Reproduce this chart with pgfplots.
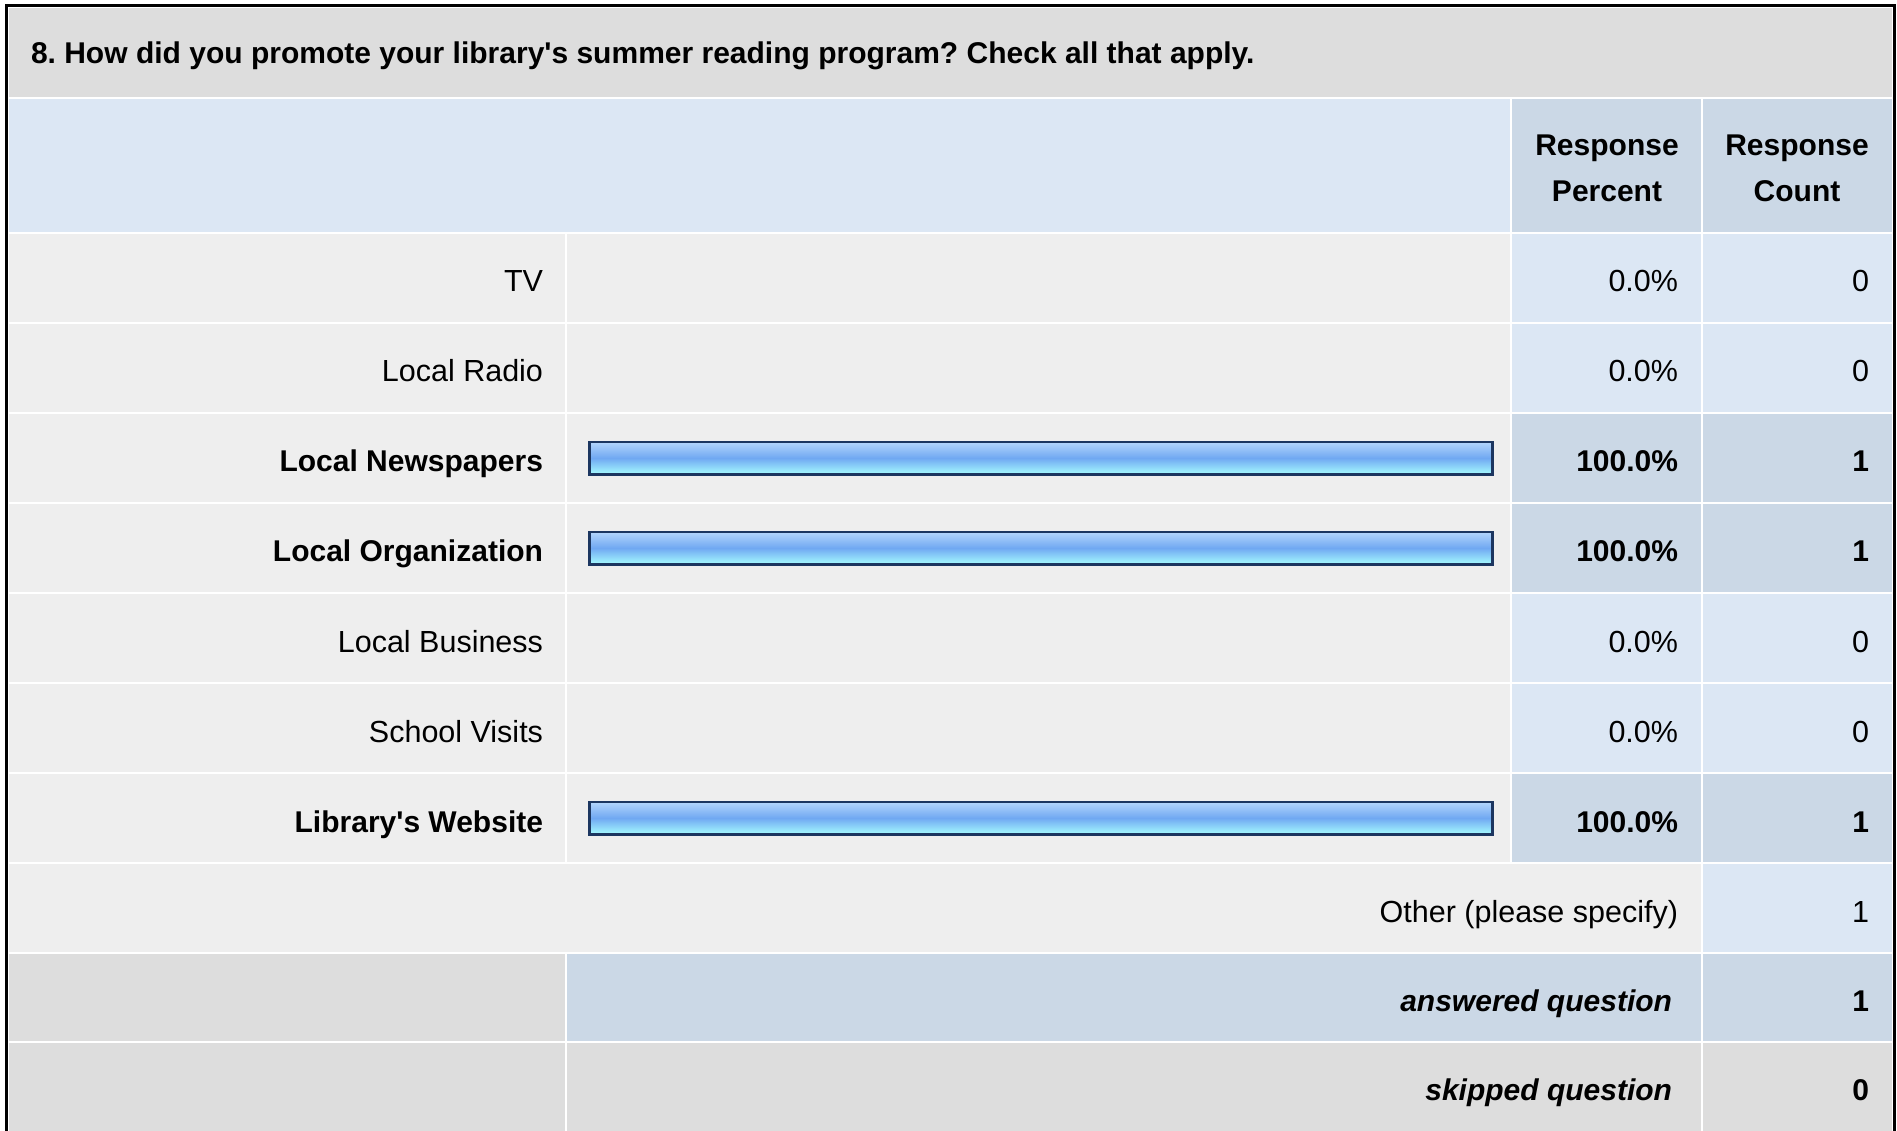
\documentclass[border=0pt]{standalone}
\usepackage{fontspec}
\setmainfont{Liberation Sans}
\usepackage{pgfplots}
\usepackage{pgfplotstable}
\pgfplotsset{compat=1.18}
\frenchspacing
\definecolor{titlebg}{HTML}{DDDDDD}
\definecolor{rowbg}{HTML}{EEEEEE}
\definecolor{hdrbg}{HTML}{DCE7F4}
\definecolor{hdrcell}{HTML}{CBD8E6}
\definecolor{valbg}{HTML}{DCE7F4}
\definecolor{hilite}{HTML}{CBD8E6}
\definecolor{barline}{HTML}{1C3660}
\definecolor{bartop}{HTML}{B4D6FC}
\definecolor{barmid}{HTML}{70A8F2}
\definecolor{barbot}{HTML}{A6FCFF}

\pgfplotstableread{
row pct cnt
0 0.0 0
1 0.0 0
2 100.0 1
3 100.0 1
4 0.0 0
5 0.0 0
6 100.0 1
}\promo

\pgfplotsset{promobar/.style={xbar, bar width=16.25bp, draw=barline, line width=1.25bp,
    top color=bartop, bottom color=barbot, middle color=barmid, mark=none}}

\newcommand\rf{\fontsize{15.25bp}{18bp}\selectfont}
\newcommand\bfnt{\fontsize{15bp}{18bp}\selectfont\bfseries}
\newcommand\cell[5]{\fill[#5] (#1+1.2,#2+1.2) rectangle (#3-1.2,#4-1.2);}

\begin{document}
\begin{tikzpicture}
\begin{scope}[x=0.5bp,y=-0.5bp]
\path[use as bounding box] (0,0) rectangle (1897,1131);
\fill[white] (0,0) rectangle (1897,1131);
\fill[black] (5,4) rectangle (1896,1140);
\fill[white] (8,7) rectangle (1893,1140);
% title
\cell{8}{7}{1893}{98}{titlebg}
% header
\cell{8}{98}{1511}{233}{hdrbg}
\cell{1511}{98}{1702}{233}{hdrcell}
\cell{1702}{98}{1893}{233}{hdrcell}
% rows
\foreach \y/\c in {233/valbg,323/valbg,413/hilite,503/hilite,593/valbg,683/valbg,773/hilite}{
  \pgfmathsetmacro\yy{\y+90}
  \cell{8}{\y}{566}{\yy}{rowbg}
  \cell{566}{\y}{1511}{\yy}{rowbg}
  \cell{1511}{\y}{1702}{\yy}{\c}
  \cell{1702}{\y}{1893}{\yy}{\c}
}
% other
\cell{8}{863}{1702}{953}{rowbg}
\cell{1702}{863}{1893}{953}{valbg}
% answered
\cell{8}{953}{566}{1042}{titlebg}
\cell{566}{953}{1702}{1042}{hilite}
\cell{1702}{953}{1893}{1042}{hilite}
% skipped
\cell{8}{1042}{566}{1140}{titlebg}
\cell{566}{1042}{1702}{1140}{titlebg}
\cell{1702}{1042}{1893}{1140}{titlebg}

\tikzset{every node/.style={inner sep=0pt, outer sep=0pt}}
\node[anchor=base west] at (31,64) {\bfnt 8. How did you promote your library{\textquotesingle}s summer reading program? Check all that apply.};
\node[anchor=base] at (1607,156) {\bfnt Response};
\node[anchor=base] at (1607,202) {\bfnt Percent};
\node[anchor=base] at (1797,156) {\bfnt Response};
\node[anchor=base] at (1797,202) {\bfnt Count};

% row labels
\node[anchor=base east] at (543,292) {\rf TV};
\node[anchor=base east] at (543,382) {\rf Local Radio};
\node[anchor=base east] at (543,472) {\bfnt Local Newspapers};
\node[anchor=base east] at (543,562) {\bfnt Local Organization};
\node[anchor=base east] at (543,652) {\rf Local Business};
\node[anchor=base east] at (543,742) {\rf School Visits};
\node[anchor=base east] at (543,832) {\bfnt Library{\textquotesingle}s Website};
% percents
\node[anchor=base east] at (1678,292) {\rf 0.0\%};
\node[anchor=base east] at (1678,382) {\rf 0.0\%};
\node[anchor=base east] at (1678,472) {\bfnt 100.0\%};
\node[anchor=base east] at (1678,562) {\bfnt 100.0\%};
\node[anchor=base east] at (1678,652) {\rf 0.0\%};
\node[anchor=base east] at (1678,742) {\rf 0.0\%};
\node[anchor=base east] at (1678,832) {\bfnt 100.0\%};
% counts
\node[anchor=base east] at (1869,292) {\rf 0};
\node[anchor=base east] at (1869,382) {\rf 0};
\node[anchor=base east] at (1869,472) {\bfnt 1};
\node[anchor=base east] at (1869,562) {\bfnt 1};
\node[anchor=base east] at (1869,652) {\rf 0};
\node[anchor=base east] at (1869,742) {\rf 0};
\node[anchor=base east] at (1869,832) {\bfnt 1};
% other / answered / skipped
\node[anchor=base east] at (1678,922) {\rf Other (please specify)};
\node[anchor=base east] at (1869,922) {\rf 1};
\node[anchor=base east] at (1672,1011) {\bfnt\itshape answered question};
\node[anchor=base east] at (1869,1011) {\bfnt 1};
\node[anchor=base east] at (1672,1100) {\bfnt\itshape skipped question};
\node[anchor=base east] at (1869,1100) {\bfnt 0};
\end{scope}

\begin{axis}[
  at={(294.75bp,-116.5bp)}, anchor=north west,
  width=451.5bp, height=315bp, scale only axis,
  xmin=0, xmax=100, ymin=-0.5, ymax=6.5, y dir=reverse,
  hide axis, clip=false]
\pgfplotsinvokeforeach{2,3,6}{
  \addplot[promobar, restrict y to domain=#1:#1, restrict x to domain=1:200]
    table[x=pct, y=row] {\promo};
}
\end{axis}
\end{tikzpicture}
\end{document}
